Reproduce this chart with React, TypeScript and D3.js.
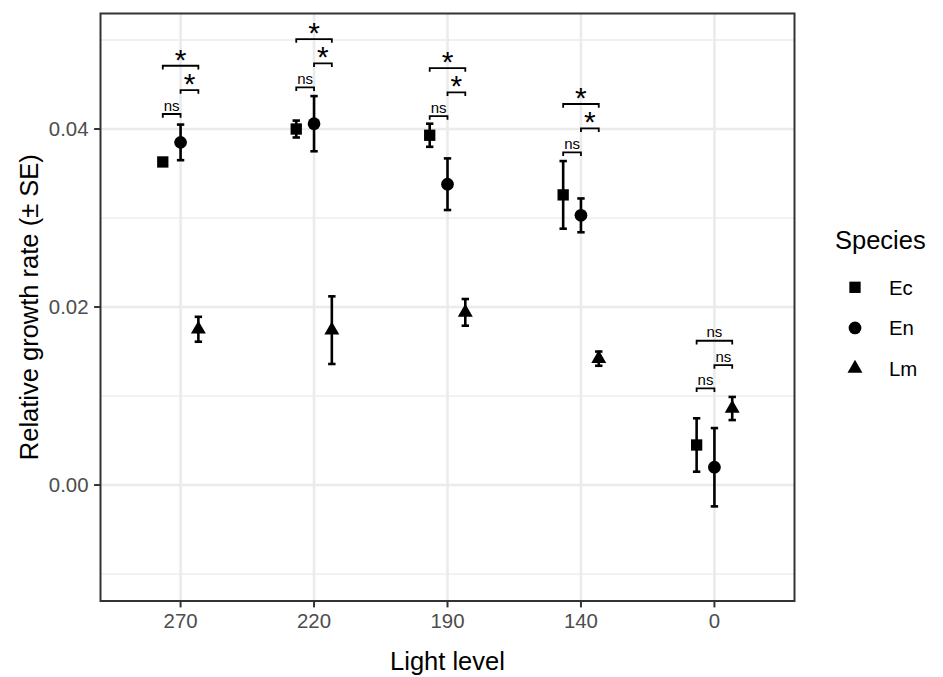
import React from "react";
import * as d3 from "d3";

const categories = ["270", "220", "190", "140", "0"];
const species = ["Ec", "En", "Lm"];
const ecMean = [0.0363, 0.04, 0.0393, 0.0326, 0.0045];
const ecSE = [0.0003, 0.00095, 0.0013, 0.0038, 0.003];
const enMean = [0.0385, 0.0406, 0.0338, 0.0303, 0.002];
const enSE = [0.002, 0.0031, 0.0029, 0.0019, 0.0044];
const lmMean = [0.0175, 0.0174, 0.0194, 0.0142, 0.0086];
const lmSE = [0.0014, 0.0038, 0.0015, 0.0008, 0.0013];

const bracketCat = ["270", "270", "270", "220", "220", "220", "190", "190", "190", "140", "140", "140", "0", "0", "0"];
const bracketFrom = ["Ec", "En", "Ec", "Ec", "En", "Ec", "Ec", "En", "Ec", "Ec", "En", "Ec", "Ec", "En", "Ec"];
const bracketTo = ["En", "Lm", "Lm", "En", "Lm", "Lm", "En", "Lm", "Lm", "En", "Lm", "Lm", "En", "Lm", "Lm"];
const bracketY = [0.04169, 0.04438, 0.04711, 0.04468, 0.04738, 0.05011, 0.04146, 0.04412, 0.04685, 0.03738, 0.04008, 0.04281, 0.01087, 0.01348, 0.01621];
const bracketLabel = ["ns", "*", "*", "ns", "*", "*", "ns", "*", "*", "ns", "*", "*", "ns", "ns", "ns"];

const yMajor = [0, 0.02, 0.04];
const yMinor = [-0.01, 0.01, 0.03, 0.05];
const yTickLabels = ["0.00", "0.02", "0.04"];

const W = 943;
const H = 677;
const panel = { left: 100.5, right: 794.5, top: 13.5, bottom: 601 };
const FONT = "'Liberation Sans', Arial, Helvetica, sans-serif";

export default function App() {
  const x = d3.scalePoint<string>().domain(categories).range([panel.left, panel.right]).padding(0.6);
  const step = x.step();
  const dodge = d3.scalePoint<string>().domain(species).range([-step * 0.4 / 3, step * 0.4 / 3]);
  const y = d3.scaleLinear().domain([-0.01303, 0.05298]).range([panel.bottom, panel.top]);

  const means: Record<string, number[]> = { Ec: ecMean, En: enMean, Lm: lmMean };
  const ses: Record<string, number[]> = { Ec: ecSE, En: enSE, Lm: lmSE };
  const symbolType: Record<string, d3.SymbolType> = { Ec: d3.symbolSquare, En: d3.symbolCircle, Lm: d3.symbolTriangle };
  const symbolSize: Record<string, number> = { Ec: 128, En: 127, Lm: 97 };
  const symPath = (s: string) => d3.symbol().type(symbolType[s]).size(symbolSize[s])() as string;

  const cap = 3.7;
  const tip = 3.7;
  const grid = "#EBEBEB";

  return (
    <svg width={W} height={H} style={{ position: "absolute", left: 0, top: 0, background: "#fff" }} fontFamily={FONT}>
      <rect x={0} y={0} width={W} height={H} fill="#fff" />
      {yMinor.map((v) => (
        <line key={"mi" + v} x1={panel.left} x2={panel.right} y1={y(v)} y2={y(v)} stroke={grid} strokeWidth={1.3} />
      ))}
      {yMajor.map((v) => (
        <line key={"ma" + v} x1={panel.left} x2={panel.right} y1={y(v)} y2={y(v)} stroke={grid} strokeWidth={2.6} />
      ))}
      {categories.map((c) => (
        <line key={"vx" + c} x1={x(c)} x2={x(c)} y1={panel.top} y2={panel.bottom} stroke={grid} strokeWidth={2.6} />
      ))}

      {species.map((s) =>
        categories.map((c, i) => {
          const cx = (x(c) as number) + (dodge(s) as number);
          const m = means[s][i];
          const e = ses[s][i];
          const y1 = y(m + e);
          const y2 = y(m - e);
          return (
            <g key={s + c}>
              <line x1={cx} x2={cx} y1={y1} y2={y2} stroke="#000" strokeWidth={2.6} />
              <line x1={cx - cap} x2={cx + cap} y1={y1} y2={y1} stroke="#000" strokeWidth={2.6} />
              <line x1={cx - cap} x2={cx + cap} y1={y2} y2={y2} stroke="#000" strokeWidth={2.6} />
              <path d={symPath(s)} transform={`translate(${cx},${y(m)})`} fill="#000" />
            </g>
          );
        })
      )}

      {bracketY.map((v, i) => {
        const xa = (x(bracketCat[i]) as number) + (dodge(bracketFrom[i]) as number);
        const xb = (x(bracketCat[i]) as number) + (dodge(bracketTo[i]) as number);
        const yy = y(v);
        const star = bracketLabel[i] === "*";
        return (
          <g key={"b" + i}>
            <path d={`M${xa},${yy + tip}V${yy}H${xb}V${yy + tip}`} fill="none" stroke="#000" strokeWidth={1.8} />
            <text
              x={(xa + xb) / 2}
              y={star ? yy + 4 : yy - 3.3}
              textAnchor="middle"
              fontSize={star ? 30 : 15}
              fill="#000"
            >
              {bracketLabel[i]}
            </text>
          </g>
        );
      })}

      <rect
        x={panel.left}
        y={panel.top}
        width={panel.right - panel.left}
        height={panel.bottom - panel.top}
        fill="none"
        stroke="#333333"
        strokeWidth={2}
      />

      {yMajor.map((v, i) => (
        <g key={"yt" + v}>
          <line x1={panel.left - 6.4} x2={panel.left} y1={y(v)} y2={y(v)} stroke="#333333" strokeWidth={2} />
          <text x={panel.left - 12} y={y(v) + 7.3} textAnchor="end" fontSize={20.4} fill="#4D4D4D">
            {yTickLabels[i]}
          </text>
        </g>
      ))}
      {categories.map((c) => (
        <g key={"xt" + c}>
          <line x1={x(c)} x2={x(c)} y1={panel.bottom} y2={panel.bottom + 6.4} stroke="#333333" strokeWidth={2} />
          <text x={x(c)} y={628} textAnchor="middle" fontSize={20.4} fill="#4D4D4D">
            {c}
          </text>
        </g>
      ))}

      <text x={(panel.left + panel.right) / 2} y={670} textAnchor="middle" fontSize={25.5} fill="#000">
        Light level
      </text>
      <text
        transform={`translate(38,${(panel.top + panel.bottom) / 2}) rotate(-90)`}
        textAnchor="middle"
        fontSize={25.5}
        fill="#000"
      >
        Relative growth rate (± SE)
      </text>

      <text x={835} y={249} fontSize={25.5} fill="#000">
        Species
      </text>
      {species.map((s, i) => {
        const ky = 287.3 + i * 40.6;
        return (
          <g key={"lg" + s}>
            <path d={symPath(s)} transform={`translate(855,${ky})`} fill="#000" />
            <text x={889} y={ky + 7.3} fontSize={20.4} fill="#000">
              {s}
            </text>
          </g>
        );
      })}
    </svg>
  );
}
